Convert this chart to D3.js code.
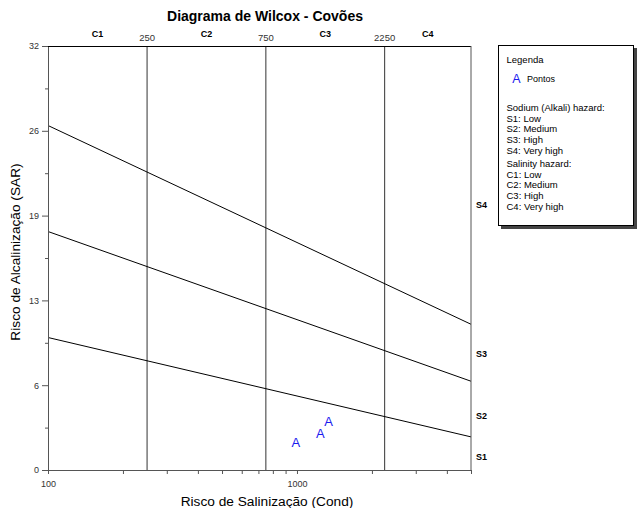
<!DOCTYPE html>
<html>
<head>
<meta charset="utf-8">
<script src="https://cdn.jsdelivr.net/npm/d3@7"></script>
<style>
  html, body { margin: 0; padding: 0; background: #fff; }
  svg { display: block; font-family: "Liberation Sans", Arial, sans-serif; }
</style>
</head>
<body>
<svg id="chart" width="637" height="508"></svg>
<script>
// Conductivity (log) and SAR (linear) extents
const ecDomain = [100, 5000];
const sarDomain = [0, 32];

// Salinity class breaks and their names
const salinityBreaks = [250, 750, 2250];
const salinityClasses = ["C1", "C2", "C3", "C4"];

// Sodium hazard boundary lines: SAR at EC = 100 and at EC = 5000
const boundarySarStart = [10, 18, 26];
const boundarySarEnd = [2.5, 6.7, 11.0];

// Sodium class labels and the SAR level where each is written
const sodiumClasses = ["S1", "S2", "S3", "S4"];
const sodiumLabelSar = [1.0, 4.1, 8.8, 20.0];

// Axis ticks
const sarTicks = [0, 6.4, 12.8, 19.2, 25.6, 32];
const sarMinorTicks = [3.2, 9.6, 16.0, 22.4, 28.8];
const ecTicks = [100, 200, 300, 400, 500, 600, 700, 800, 900, 1000, 2000, 3000, 4000, 5000];
const ecLabelled = [100, 1000];

// Sample points
const pointEC = [990, 1240, 1340];
const pointSAR = [2.1, 2.75, 3.7];
const pointSymbol = "A";

// Legend text
const legendTitle = "Legenda";
const legendSeries = "Pontos";
const sodiumHeader = "Sodium (Alkali) hazard:";
const sodiumItems = ["S1: Low", "S2: Medium", "S3: High", "S4: Very high"];
const salinityHeader = "Salinity hazard:";
const salinityItems = ["C1: Low", "C2: Medium", "C3: High", "C4: Very high"];

const svg = d3.select("#chart");
const margin = { left: 48, right: 166, top: 46, bottom: 38 };
const W = 637, H = 508;

const x = d3.scaleLog().domain(ecDomain).range([margin.left, W - margin.right]);
const y = d3.scaleLinear().domain(sarDomain).range([H - margin.bottom, margin.top]);

const axisColor = "#555";
const textColor = "#333";
const pointColor = "#1a1aee";

// Title
svg.append("text")
  .attr("x", 265).attr("y", 21)
  .attr("text-anchor", "middle")
  .attr("font-size", 14).attr("font-weight", "bold")
  .attr("fill", "#000")
  .text("Diagrama de Wilcox - Covões");

// Salinity class dividers
svg.append("g").selectAll("line")
  .data(salinityBreaks).join("line")
  .attr("x1", d => x(d)).attr("x2", d => x(d))
  .attr("y1", y(sarDomain[1])).attr("y2", y(sarDomain[0]))
  .attr("stroke", "#333").attr("stroke-width", 1);

// Break values above the plot
svg.append("g").selectAll("text")
  .data(salinityBreaks).join("text")
  .attr("x", d => x(d)).attr("y", y(sarDomain[1]) - 5)
  .attr("text-anchor", "middle")
  .attr("font-size", 9.5).attr("fill", textColor)
  .text(d => d);

// Salinity class names centred (in log space) between breaks
const classEdges = [ecDomain[0], ...salinityBreaks, ecDomain[1]];
svg.append("g").selectAll("text")
  .data(salinityClasses).join("text")
  .attr("x", (d, i) => (x(classEdges[i]) + x(classEdges[i + 1])) / 2)
  .attr("y", y(sarDomain[1]) - 9)
  .attr("text-anchor", "middle")
  .attr("font-size", 9).attr("font-weight", "bold").attr("fill", "#000")
  .text(d => d);

// Sodium hazard boundaries
const boundaries = boundarySarStart.map((s, i) => [[ecDomain[0], s], [ecDomain[1], boundarySarEnd[i]]]);
const line = d3.line().x(d => x(d[0])).y(d => y(d[1]));
svg.append("g").selectAll("path")
  .data(boundaries).join("path")
  .attr("d", line)
  .attr("fill", "none").attr("stroke", "#000").attr("stroke-width", 1);

// Sodium class labels on the right
svg.append("g").selectAll("text")
  .data(sodiumClasses).join("text")
  .attr("x", x(ecDomain[1]) + 5)
  .attr("y", (d, i) => y(sodiumLabelSar[i]))
  .attr("dy", "0.36em")
  .attr("font-size", 9).attr("font-weight", "bold").attr("fill", "#000")
  .text(d => d);

// Y axis (SAR)
const yAxis = svg.append("g")
  .attr("transform", `translate(${margin.left},0)`)
  .call(d3.axisLeft(y).tickValues(sarTicks).tickSize(6).tickSizeOuter(0)
    .tickFormat(d3.format(".0f")));
svg.append("g")
  .attr("transform", `translate(${margin.left},0)`)
  .call(d3.axisLeft(y).tickValues(sarMinorTicks).tickSize(3).tickSizeOuter(0).tickFormat(""))
  .call(g => g.select(".domain").remove())
  .selectAll("line").attr("stroke", axisColor);

// X axis (conductivity)
const xAxis = svg.append("g")
  .attr("transform", `translate(0,${y(sarDomain[0])})`)
  .call(d3.axisBottom(x).tickValues(ecTicks).tickSize(4).tickSizeOuter(0).tickPadding(6.5)
    .tickFormat(d => ecLabelled.includes(d) ? d : ""));

[yAxis, xAxis].forEach(g => {
  g.select(".domain").attr("stroke", axisColor);
  g.selectAll(".tick line").attr("stroke", axisColor);
  g.selectAll(".tick text").attr("font-size", 9).attr("fill", textColor)
    .attr("font-family", "Liberation Sans, Arial, sans-serif");
});

// Plot frame: top and right edges
svg.append("line")
  .attr("x1", x(ecDomain[0])).attr("x2", x(ecDomain[1]))
  .attr("y1", y(sarDomain[1]) + 0.5).attr("y2", y(sarDomain[1]) + 0.5)
  .attr("stroke", "#000");
svg.append("line")
  .attr("x1", x(ecDomain[1])).attr("x2", x(ecDomain[1]))
  .attr("y1", y(sarDomain[1])).attr("y2", y(sarDomain[0]))
  .attr("stroke", axisColor);

// Axis titles
svg.append("text")
  .attr("x", 267).attr("y", 505.5)
  .attr("text-anchor", "middle").attr("font-size", 13.7).attr("fill", "#000")
  .text("Risco de Salinização (Cond)");
svg.append("text")
  .attr("transform", "translate(20,252) rotate(-90)")
  .attr("text-anchor", "middle").attr("font-size", 13.7).attr("fill", "#000")
  .text("Risco de Alcalinização (SAR)");

// Sample points drawn as letter symbols
svg.append("g").selectAll("text")
  .data(pointEC.map((e, i) => [e, pointSAR[i]])).join("text")
  .attr("x", d => x(d[0])).attr("y", d => y(d[1]))
  .attr("dy", "0.36em")
  .attr("text-anchor", "middle")
  .attr("font-size", 13).attr("fill", pointColor)
  .text(pointSymbol);

// Legend box with drop shadow
const lg = svg.append("g");
lg.append("rect")
  .attr("x", 501).attr("y", 48).attr("width", 136).attr("height", 181)
  .attr("fill", "#444");
lg.append("rect")
  .attr("x", 498.5).attr("y", 45.5).attr("width", 135).attr("height", 180)
  .attr("fill", "#fff").attr("stroke", "#000").attr("stroke-width", 1);

const lx = 506.5;
const lineGap = 10.7;
lg.append("text").attr("x", lx).attr("y", 62.5)
  .attr("font-size", 9.5).attr("fill", "#000").text(legendTitle);
lg.append("text").attr("x", 516.5).attr("y", 82.5)
  .attr("text-anchor", "middle")
  .attr("font-size", 12.5).attr("fill", pointColor).text(pointSymbol);
lg.append("text").attr("x", 527).attr("y", 81.5)
  .attr("font-size", 9).attr("fill", "#000").text(legendSeries);

const sodiumBlock = [sodiumHeader, ...sodiumItems];
lg.append("g").selectAll("text")
  .data(sodiumBlock).join("text")
  .attr("x", lx).attr("y", (d, i) => 111 + i * lineGap)
  .attr("font-size", 9.5).attr("fill", "#000")
  .text(d => d);

const salinityBlock = [salinityHeader, ...salinityItems];
lg.append("g").selectAll("text")
  .data(salinityBlock).join("text")
  .attr("x", lx).attr("y", (d, i) => 167 + i * lineGap)
  .attr("font-size", 9.5).attr("fill", "#000")
  .text(d => d);
</script>
</body>
</html>
